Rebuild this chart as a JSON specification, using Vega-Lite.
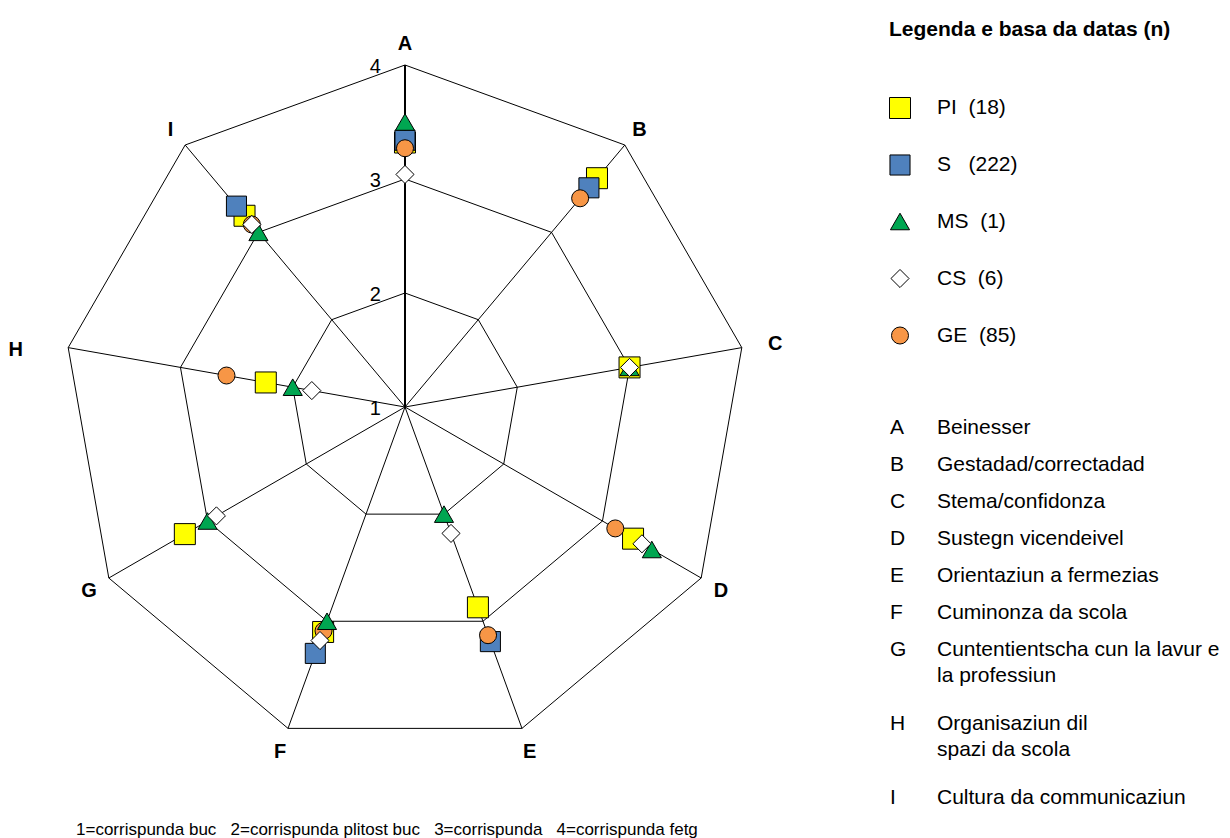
{
  "$schema": "https://vega.github.io/schema/vega-lite/v6.json",
  "width": 1230,
  "height": 838,
  "autosize": "none",
  "padding": 0,
  "background": "white",
  "config": {"view": {"stroke": null}, "font": "Liberation Sans"},
  "title": {
    "text": "1=corrispunda buc\u00a0\u00a0\u00a02=corrispunda plitost buc\u00a0\u00a0\u00a03=corrispunda\u00a0\u00a0\u00a04=corrispunda fetg",
    "orient": "bottom",
    "anchor": "start",
    "frame": "group",
    "baseline": "alphabetic",
    "offset": -3,
    "dx": 76,
    "fontSize": 17,
    "fontWeight": "normal",
    "font": "Liberation Sans",
    "color": "black"
  },
  "datasets": {
    "axes": [
      {"key": "A", "idx": 0, "name": "Beinesser", "levels": [2, 3, 4]},
      {"key": "B", "idx": 1, "name": "Gestadad/correctadad", "levels": [2, 3, 4]},
      {"key": "C", "idx": 2, "name": "Stema/confidonza", "levels": [2, 3, 4]},
      {"key": "D", "idx": 3, "name": "Sustegn vicendeivel", "levels": [2, 3, 4]},
      {"key": "E", "idx": 4, "name": "Orientaziun a fermezias", "levels": [2, 3, 4]},
      {"key": "F", "idx": 5, "name": "Cuminonza da scola", "levels": [2, 3, 4]},
      {"key": "G", "idx": 6, "name": "Cuntentientscha cun la lavur e\nla professiun", "levels": [2, 3, 4]},
      {"key": "H", "idx": 7, "name": "Organisaziun dil\nspazi da scola", "levels": [2, 3, 4]},
      {"key": "I", "idx": 8, "name": "Cultura da communicaziun", "levels": [2, 3, 4]}
    ],
    "ticks": [{"tick": 1}, {"tick": 2}, {"tick": 3}, {"tick": 4}],
    "scores": [
      {"axis": "A", "series": "PI", "value": 3.32},
      {"axis": "B", "series": "PI", "value": 3.62},
      {"axis": "C", "series": "PI", "value": 3.0},
      {"axis": "D", "series": "PI", "value": 3.31},
      {"axis": "E", "series": "PI", "value": 2.87},
      {"axis": "F", "series": "PI", "value": 3.1},
      {"axis": "G", "series": "PI", "value": 3.23},
      {"axis": "H", "series": "PI", "value": 2.24},
      {"axis": "I", "series": "PI", "value": 3.19},
      {"axis": "A", "series": "S", "value": 3.34},
      {"axis": "B", "series": "S", "value": 3.51},
      {"axis": "E", "series": "S", "value": 3.19},
      {"axis": "F", "series": "S", "value": 3.3},
      {"axis": "I", "series": "S", "value": 3.3},
      {"axis": "A", "series": "GE", "value": 3.27},
      {"axis": "B", "series": "GE", "value": 3.39},
      {"axis": "D", "series": "GE", "value": 3.13},
      {"axis": "E", "series": "GE", "value": 3.13},
      {"axis": "F", "series": "GE", "value": 3.09},
      {"axis": "H", "series": "GE", "value": 2.59},
      {"axis": "I", "series": "GE", "value": 3.09},
      {"axis": "A", "series": "MS", "value": 3.5},
      {"axis": "C", "series": "MS", "value": 3.0},
      {"axis": "D", "series": "MS", "value": 3.5},
      {"axis": "E", "series": "MS", "value": 2.0},
      {"axis": "F", "series": "MS", "value": 3.0},
      {"axis": "G", "series": "MS", "value": 3.0},
      {"axis": "H", "series": "MS", "value": 2.0},
      {"axis": "I", "series": "MS", "value": 3.0},
      {"axis": "A", "series": "CS", "value": 3.04},
      {"axis": "C", "series": "CS", "value": 3.0},
      {"axis": "D", "series": "CS", "value": 3.4},
      {"axis": "E", "series": "CS", "value": 2.18},
      {"axis": "F", "series": "CS", "value": 3.18},
      {"axis": "G", "series": "CS", "value": 2.91},
      {"axis": "H", "series": "CS", "value": 1.83},
      {"axis": "I", "series": "CS", "value": 3.09}
    ]
  },
  "layer": [
    {
      "layer": [
        {
          "data": {"name": "axes"},
          "transform": [
            {"flatten": ["levels"], "as": ["level"]},
            {"calculate": "datum.idx * 2 * PI / 9", "as": "ang"},
            {"calculate": "(datum.level - 1) * sin(datum.ang)", "as": "gx"},
            {"calculate": "(datum.level - 1) * cos(datum.ang)", "as": "gy"}
          ],
          "mark": {"type": "line", "interpolate": "linear-closed", "stroke": "black", "strokeWidth": 1},
          "encoding": {
            "x": {"field": "gx", "type": "quantitative", "scale": {"domain": [-3.5526, 7.2368], "nice": false, "zero": false}, "axis": null},
            "y": {"field": "gy", "type": "quantitative", "scale": {"domain": [-3.7807, 3.5702], "nice": false, "zero": false}, "axis": null},
            "detail": {"field": "level", "type": "nominal"},
            "order": {"field": "idx", "type": "quantitative"}
          }
        },
        {
          "data": {"name": "axes"},
          "transform": [
            {"calculate": "datum.idx * 2 * PI / 9", "as": "ang"},
            {"calculate": "3 * sin(datum.ang)", "as": "tx"},
            {"calculate": "3 * cos(datum.ang)", "as": "ty"}
          ],
          "mark": {"type": "rule", "stroke": "black"},
          "encoding": {
            "x": {"field": "tx", "type": "quantitative", "scale": {"domain": [-3.5526, 7.2368], "nice": false, "zero": false}, "axis": null},
            "y": {"field": "ty", "type": "quantitative", "scale": {"domain": [-3.7807, 3.5702], "nice": false, "zero": false}, "axis": null},
            "x2": {"datum": 0},
            "y2": {"datum": 0},
            "strokeWidth": {"condition": {"test": "datum.idx == 0", "value": 2}, "value": 1}
          }
        },
        {
          "data": {"name": "ticks"},
          "transform": [{"calculate": "datum.tick - 1", "as": "ty"}],
          "mark": {"type": "text", "align": "right", "baseline": "middle", "dx": -24, "dy": 1.5, "fontSize": 20, "color": "black"},
          "encoding": {
            "x": {"datum": 0, "type": "quantitative", "scale": {"domain": [-3.5526, 7.2368], "nice": false, "zero": false}, "axis": null},
            "y": {"field": "ty", "type": "quantitative", "scale": {"domain": [-3.7807, 3.5702], "nice": false, "zero": false}, "axis": null},
            "text": {"field": "tick", "type": "nominal"}
          }
        },
        {
          "data": {"name": "axes"},
          "transform": [
            {"filter": "datum.key != 'C' && datum.key != 'H'"},
            {"calculate": "datum.idx * 2 * PI / 9", "as": "ang"},
            {"calculate": "3.2 * sin(datum.ang)", "as": "lx"},
            {"calculate": "3.2 * cos(datum.ang)", "as": "ly"}
          ],
          "mark": {"type": "text", "align": "center", "baseline": "middle", "dy": 2, "fontSize": 20, "fontWeight": "bold", "color": "black"},
          "encoding": {
            "x": {"field": "lx", "type": "quantitative", "scale": {"domain": [-3.5526, 7.2368], "nice": false, "zero": false}, "axis": null},
            "y": {"field": "ly", "type": "quantitative", "scale": {"domain": [-3.7807, 3.5702], "nice": false, "zero": false}, "axis": null},
            "text": {"field": "key", "type": "nominal"}
          }
        },
        {
          "data": {"name": "axes"},
          "transform": [
            {"filter": "datum.key == 'C'"},
            {"calculate": "datum.idx * 2 * PI / 9", "as": "ang"},
            {"calculate": "3.2 * sin(datum.ang)", "as": "lx"},
            {"calculate": "3.2 * cos(datum.ang)", "as": "ly"}
          ],
          "mark": {"type": "text", "align": "center", "baseline": "middle", "dx": 11, "dy": 0, "fontSize": 20, "fontWeight": "bold", "color": "black"},
          "encoding": {
            "x": {"field": "lx", "type": "quantitative", "scale": {"domain": [-3.5526, 7.2368], "nice": false, "zero": false}, "axis": null},
            "y": {"field": "ly", "type": "quantitative", "scale": {"domain": [-3.7807, 3.5702], "nice": false, "zero": false}, "axis": null},
            "text": {"field": "key", "type": "nominal"}
          }
        },
        {
          "data": {"name": "axes"},
          "transform": [
            {"filter": "datum.key == 'H'"},
            {"calculate": "datum.idx * 2 * PI / 9", "as": "ang"},
            {"calculate": "3.2 * sin(datum.ang)", "as": "lx"},
            {"calculate": "3.2 * cos(datum.ang)", "as": "ly"}
          ],
          "mark": {"type": "text", "align": "center", "baseline": "middle", "dx": -30, "dy": 6, "fontSize": 20, "fontWeight": "bold", "color": "black"},
          "encoding": {
            "x": {"field": "lx", "type": "quantitative", "scale": {"domain": [-3.5526, 7.2368], "nice": false, "zero": false}, "axis": null},
            "y": {"field": "ly", "type": "quantitative", "scale": {"domain": [-3.7807, 3.5702], "nice": false, "zero": false}, "axis": null},
            "text": {"field": "key", "type": "nominal"}
          }
        },
        {
          "data": {"name": "scores"},
          "transform": [
            {"calculate": "indexof(['A','B','C','D','E','F','G','H','I'], datum.axis) * 2 * PI / 9", "as": "ang"},
            {"calculate": "(datum.value - 1) * sin(datum.ang)", "as": "px"},
            {"calculate": "(datum.value - 1) * cos(datum.ang)", "as": "py"}
          ],
          "mark": {"type": "point", "filled": true, "opacity": 1, "stroke": "black", "strokeWidth": 1},
          "encoding": {
            "x": {"field": "px", "type": "quantitative", "scale": {"domain": [-3.5526, 7.2368], "nice": false, "zero": false}, "axis": null},
            "y": {"field": "py", "type": "quantitative", "scale": {"domain": [-3.7807, 3.5702], "nice": false, "zero": false}, "axis": null},
            "color": {
              "field": "series", "type": "nominal",
              "scale": {"domain": ["PI", "S", "MS", "CS", "GE"], "range": ["#FFFF00", "#4F81BD", "#00A651", "#FFFFFF", "#F79646"]},
              "legend": {
                "title": "Legenda e basa da datas (n)",
                "orient": "none", "legendX": 889, "legendY": 19, "padding": 0,
                "titleFontSize": 21, "titleFontWeight": "bold", "titleFont": "Liberation Sans", "titleColor": "black", "titlePadding": 57, "titleLimit": 400,
                "labelFontSize": 21, "labelFont": "Liberation Sans", "labelColor": "black", "labelOffset": 26, "labelLimit": 300,
                "symbolSize": 729, "symbolStrokeColor": "black", "symbolStrokeWidth": 1, "symbolOpacity": 1,
                "rowPadding": 31, "gridAlign": "all",
                "labelExpr": "{'PI': 'PI\u00a0\u00a0(18)', 'S': 'S\u00a0\u00a0\u00a0(222)', 'MS': 'MS\u00a0\u00a0(1)', 'CS': 'CS\u00a0\u00a0(6)', 'GE': 'GE\u00a0\u00a0(85)'}[datum.label]",
                "encode": {"symbols": {"update": {"stroke": {"value": "black"}, "strokeWidth": {"value": 1}}}}
              }
            },
            "shape": {
              "field": "series", "type": "nominal",
              "scale": {"domain": ["PI", "S", "MS", "CS", "GE"], "range": ["square", "square", "triangle-up", "diamond", "circle"]},
              "legend": {
                "title": "Legenda e basa da datas (n)",
                "orient": "none", "legendX": 889, "legendY": 19, "padding": 0,
                "titleFontSize": 21, "titleFontWeight": "bold", "titleFont": "Liberation Sans", "titleColor": "black", "titlePadding": 57, "titleLimit": 400,
                "labelFontSize": 21, "labelFont": "Liberation Sans", "labelColor": "black", "labelOffset": 26, "labelLimit": 300,
                "symbolSize": 729, "symbolStrokeColor": "black", "symbolStrokeWidth": 1, "symbolOpacity": 1,
                "rowPadding": 31, "gridAlign": "all",
                "labelExpr": "{'PI': 'PI\u00a0\u00a0(18)', 'S': 'S\u00a0\u00a0\u00a0(222)', 'MS': 'MS\u00a0\u00a0(1)', 'CS': 'CS\u00a0\u00a0(6)', 'GE': 'GE\u00a0\u00a0(85)'}[datum.label]",
                "encode": {"symbols": {"update": {"stroke": {"value": "black"}, "strokeWidth": {"value": 1}}}}
              }
            },
            "size": {
              "field": "series", "type": "ordinal",
              "scale": {"domain": ["PI", "S", "MS", "CS", "GE"], "range": [441, 289, 289, 175, 196]},
              "legend": null
            }
          }
        }
      ]
    },
    {
      "data": {"name": "axes"},
      "transform": [{"fold": ["key", "name"], "as": ["col", "txt"]}],
      "mark": {"type": "text", "align": "left", "baseline": "top", "fontSize": 21, "lineBreak": "\n", "lineHeight": 26, "color": "black"},
      "encoding": {
        "x": {"field": "col", "type": "nominal", "scale": {"type": "point", "domain": ["key", "name"], "range": [890, 937], "padding": 0}, "axis": null},
        "y": {"field": "key", "type": "nominal", "scale": {"type": "point", "domain": ["A", "B", "C", "D", "E", "F", "G", "G2", "H", "H2", "I"], "range": [417, 787], "padding": 0}, "axis": null},
        "text": {"field": "txt", "type": "nominal"}
      }
    }
  ],
  "resolve": {"scale": {"x": "independent", "y": "independent"}}
}
